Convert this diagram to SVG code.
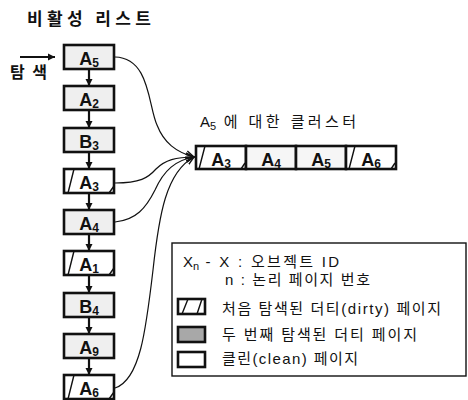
<svg xmlns="http://www.w3.org/2000/svg" width="468" height="400" viewBox="0 0 468 400">
<style>
.t{font-family:"Liberation Sans","Noto Sans CJK KR",sans-serif;fill:#111}
.ko{font-family:"Noto Sans CJK KR","Liberation Sans",sans-serif;fill:#111}
.bx{stroke:#111;stroke-width:2.6;fill:#fff}
.g{fill:#efefef}
.g2{fill:#f6f6f6}
.dk{fill:#a8a8a8}
.lbl{font-family:"Liberation Sans",sans-serif;font-weight:bold;font-size:18px;text-anchor:middle;fill:#111}
.sl{stroke:#111;stroke-width:1.4;fill:none}
.cn{stroke:#111;stroke-width:1.2;fill:none}
.ar{stroke:#111;stroke-width:2.2;fill:none}
</style>
<defs>
<marker id="ah" markerWidth="8" markerHeight="8" refX="7" refY="4" orient="auto" markerUnits="userSpaceOnUse">
<path d="M0,0.5 L7,4 L0,7.5 Z" fill="#111"/>
</marker>
<marker id="ov" markerWidth="10" markerHeight="10" refX="8" refY="5" orient="auto" markerUnits="userSpaceOnUse">
<path d="M0,1 L8,5 L0,9" fill="none" stroke="#111" stroke-width="1.4"/>
</marker>
</defs>

<text class="ko" x="27" y="25" font-size="17" font-weight="bold" textLength="124">비활성 리스트</text>

<g id="search">
<line class="ar" x1="20" y1="57" x2="55" y2="57" marker-end="url(#ah)"/>
<text class="ko" x="10" y="78" font-size="16" font-weight="bold" textLength="37">탐색</text>
</g>

<g id="chain-arrows">
<line class="ar" x1="89" y1="69" x2="89" y2="86" marker-end="url(#ah)"/>
<line class="ar" x1="89" y1="110" x2="89" y2="128" marker-end="url(#ah)"/>
<line class="ar" x1="89" y1="152" x2="89" y2="169" marker-end="url(#ah)"/>
<line class="ar" x1="89" y1="193" x2="89" y2="210" marker-end="url(#ah)"/>
<line class="ar" x1="89" y1="234" x2="89" y2="251" marker-end="url(#ah)"/>
<line class="ar" x1="89" y1="275" x2="89" y2="293" marker-end="url(#ah)"/>
<line class="ar" x1="89" y1="317" x2="89" y2="334" marker-end="url(#ah)"/>
<line class="ar" x1="89" y1="358" x2="89" y2="375" marker-end="url(#ah)"/>
</g>

<g id="nA5"><rect class="bx g" x="64" y="45" width="50" height="24"/><text class="lbl" x="89" y="65">A<tspan font-size="12" dy="2">5</tspan></text></g>
<g id="nA2"><rect class="bx g" x="64" y="86" width="50" height="24"/><text class="lbl" x="89" y="106">A<tspan font-size="12" dy="2">2</tspan></text></g>
<g id="nB3"><rect class="bx g" x="64" y="128" width="50" height="24"/><text class="lbl" x="89" y="148">B<tspan font-size="12" dy="2">3</tspan></text></g>
<g id="nA3"><rect class="bx" x="64" y="169" width="50" height="24"/><path class="sl" d="M74,169 L68,193 M109,193 L114,186"/><text class="lbl" x="89" y="189">A<tspan font-size="12" dy="2">3</tspan></text></g>
<g id="nA4"><rect class="bx g" x="64" y="210" width="50" height="24"/><text class="lbl" x="89" y="230">A<tspan font-size="12" dy="2">4</tspan></text></g>
<g id="nA1"><rect class="bx" x="64" y="251" width="50" height="24"/><path class="sl" d="M74,251 L68,275 M109,275 L114,268"/><text class="lbl" x="89" y="271">A<tspan font-size="12" dy="2">1</tspan></text></g>
<g id="nB4"><rect class="bx g" x="64" y="293" width="50" height="24"/><text class="lbl" x="89" y="313">B<tspan font-size="12" dy="2">4</tspan></text></g>
<g id="nA9"><rect class="bx g" x="64" y="334" width="50" height="24"/><text class="lbl" x="89" y="354">A<tspan font-size="12" dy="2">9</tspan></text></g>
<g id="nA6"><rect class="bx" x="64" y="375" width="50" height="24"/><path class="sl" d="M74,375 L68,399 M109,399 L114,392"/><text class="lbl" x="89" y="395">A<tspan font-size="12" dy="2">6</tspan></text></g>

<g id="connectors">
<path class="cn" d="M115,57 C150,58 148,105 157,125 C164,143 176,152 194,157" marker-end="url(#ov)"/>
<path class="cn" d="M115,183 C140,183 148,178 156,169 C165,160 176,157 194,157" marker-end="url(#ov)"/>
<path class="cn" d="M115,222 C136,220 146,208 155,190 C164,170 176,160 194,157" marker-end="url(#ov)"/>
<path class="cn" d="M115,388 C140,380 146,330 153,270 C159,215 166,172 194,157" marker-end="url(#ov)"/>
</g>

<g id="cluster">
<text class="t" x="200" y="127" font-size="15">A<tspan font-size="11" dy="3">5</tspan><tspan dy="-3" textLength="140"> 에 대한 클러스터</tspan></text>
<rect class="bx" x="196" y="146" width="50" height="23"/>
<rect class="bx g2" x="246" y="146" width="50" height="23"/>
<rect class="bx g2" x="296" y="146" width="50" height="23"/>
<rect class="bx" x="346" y="146" width="50" height="23"/>
<path class="sl" d="M205,146 L199,169 M241,169 L245,163 M355,146 L349,169 M391,169 L395,163"/>
<text class="lbl" x="221" y="166">A<tspan font-size="12" dy="2">3</tspan></text>
<text class="lbl" x="271" y="166">A<tspan font-size="12" dy="2">4</tspan></text>
<text class="lbl" x="321" y="166">A<tspan font-size="12" dy="2">5</tspan></text>
<text class="lbl" x="371" y="166">A<tspan font-size="12" dy="2">6</tspan></text>
</g>

<g id="legend">
<rect x="172" y="243" width="294" height="133" fill="#fff" stroke="#111" stroke-width="1.4"/>
<text class="t" x="183" y="267" font-size="15">X<tspan font-size="11" dy="3">n</tspan><tspan dy="-3" textLength="140">  - X : 오브젝트 ID</tspan></text>
<text class="t" x="225" y="285" font-size="15" textLength="145">n : 논리 페이지 번호</text>
<rect class="bx" x="178" y="299" width="27" height="15"/>
<path class="sl" d="M188,299 L182,314 M202,299 L197,314"/>
<text class="t" x="222" y="314" font-size="15" textLength="219">처음 탐색된 더티(dirty) 페이지</text>
<rect class="bx dk" x="178" y="327" width="27" height="15"/>
<text class="t" x="222" y="340" font-size="15" textLength="195">두 번째 탐색된 더티 페이지</text>
<rect class="bx" x="178" y="352" width="27" height="15"/>
<text class="t" x="222" y="364" font-size="15" textLength="136">클린(clean) 페이지</text>
</g>
</svg>
